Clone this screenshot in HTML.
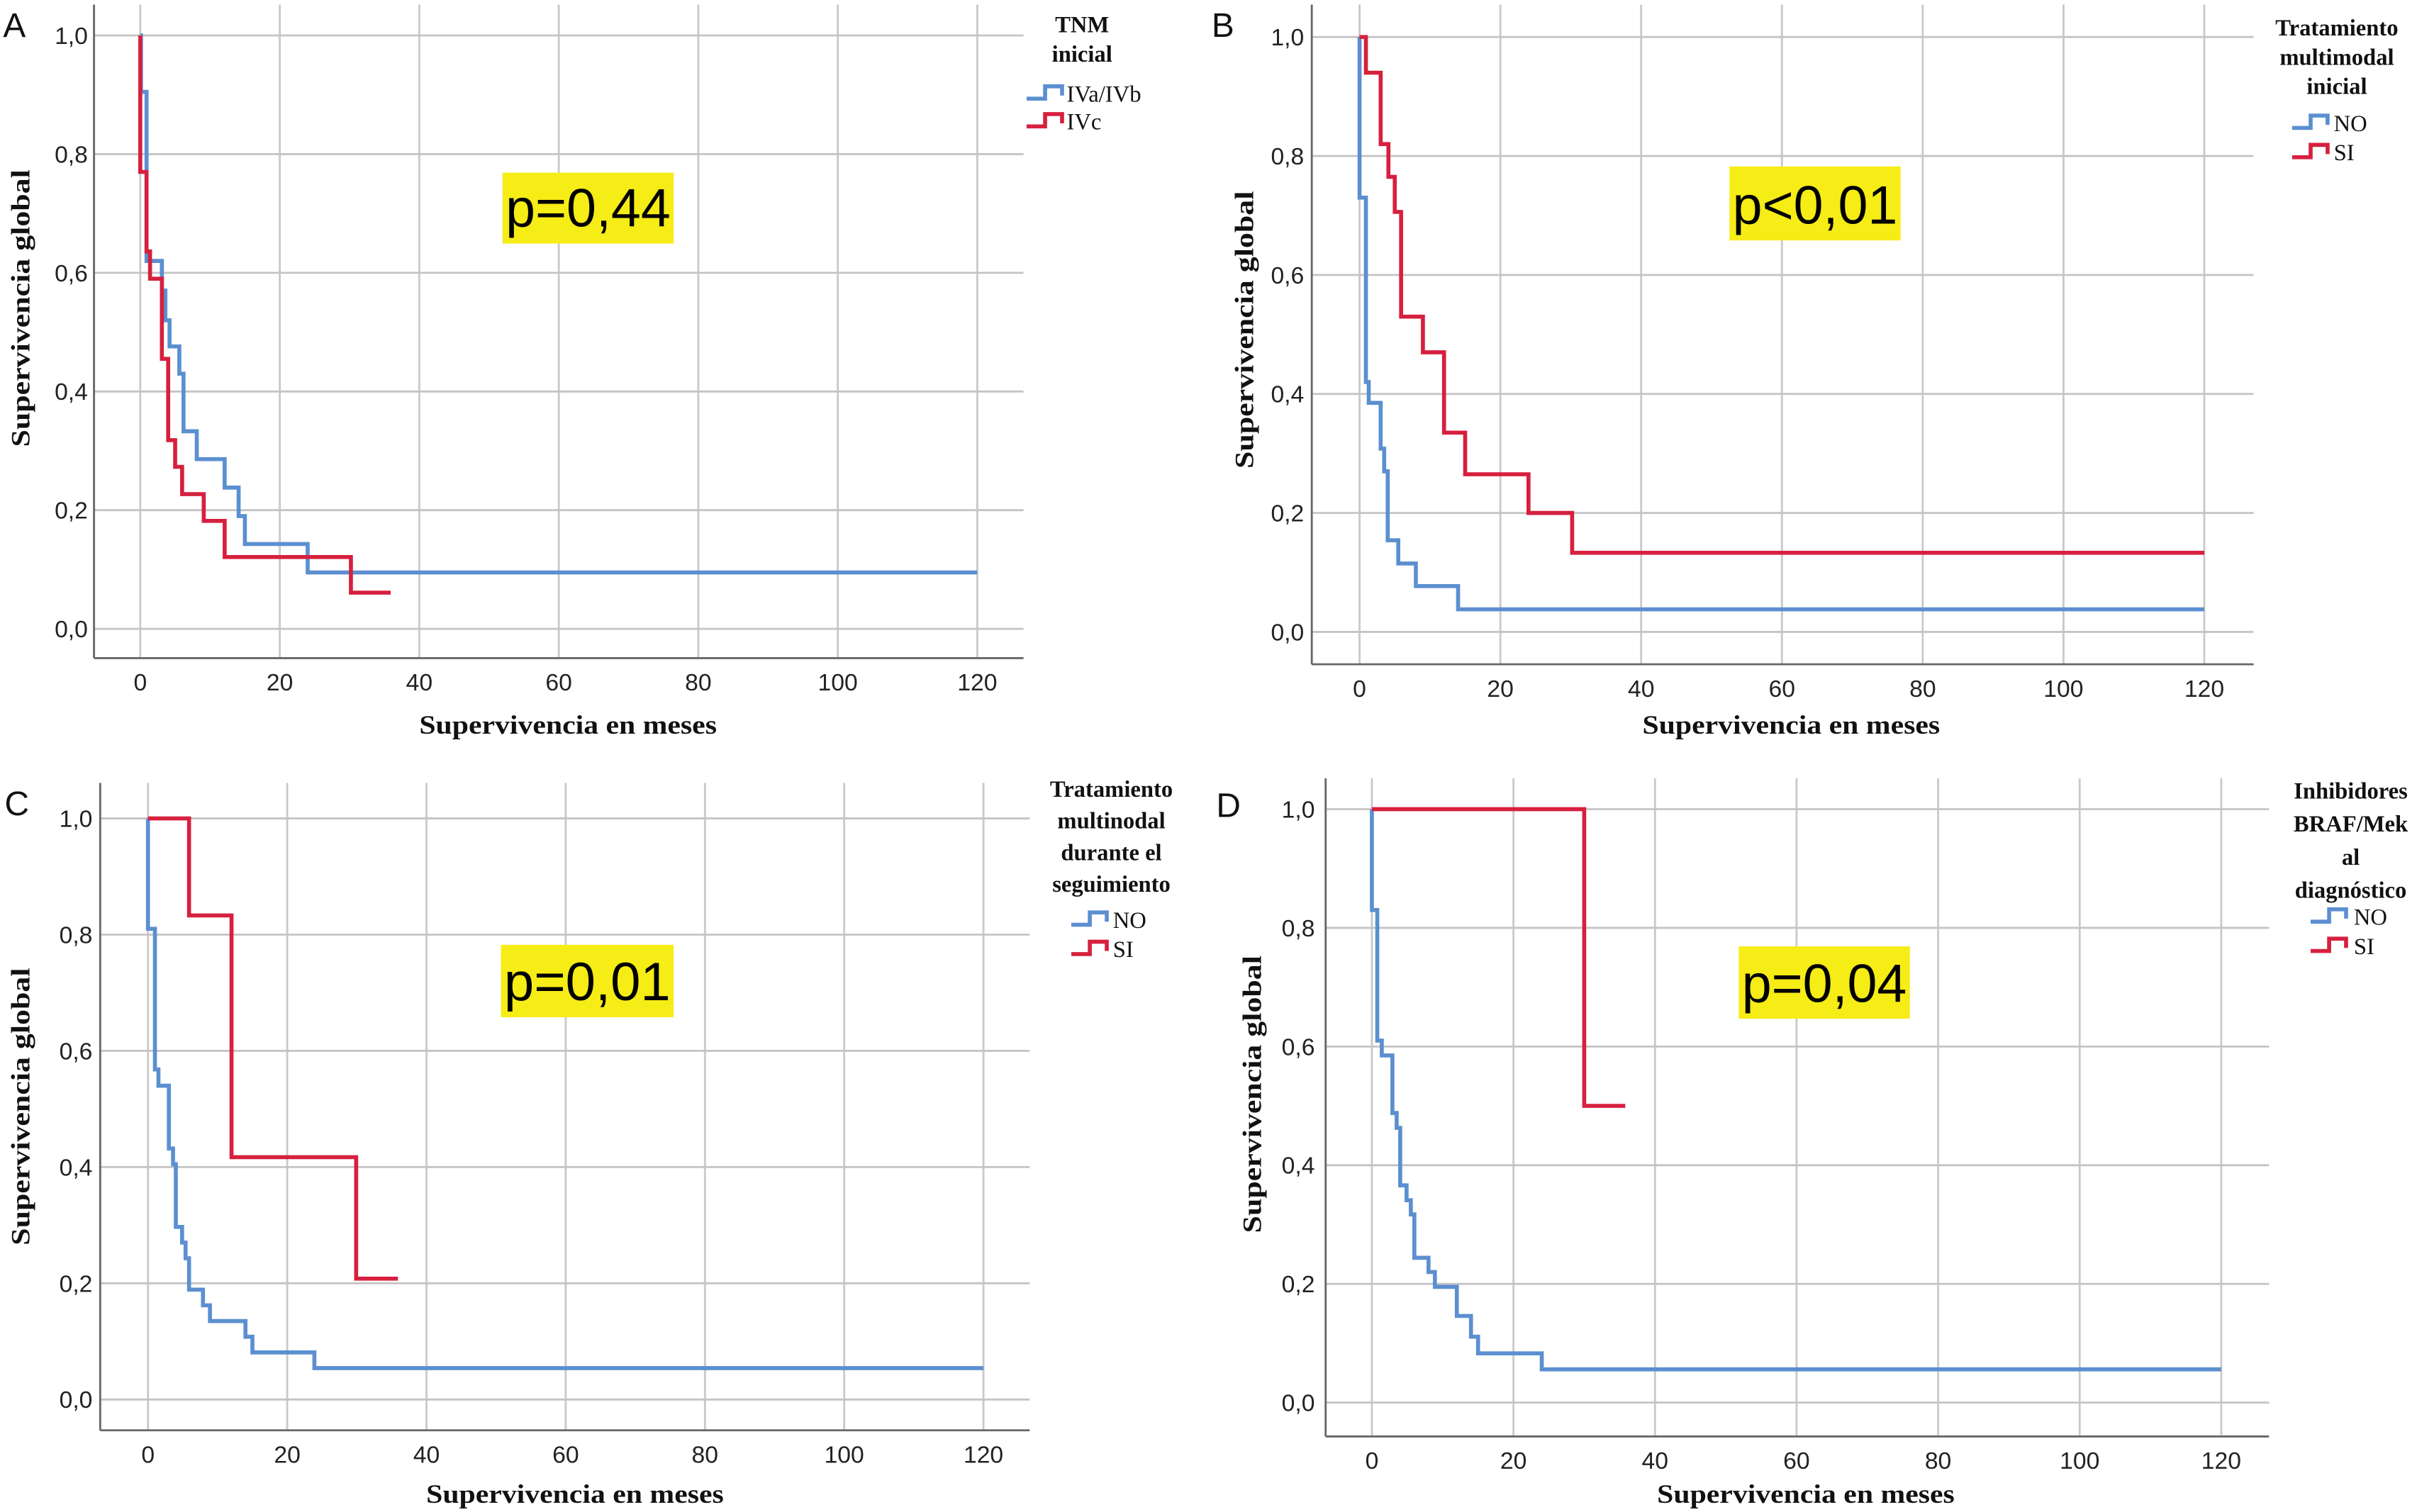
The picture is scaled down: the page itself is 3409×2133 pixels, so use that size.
<!DOCTYPE html>
<html><head><meta charset="utf-8">
<style>
html,body{margin:0;padding:0;background:#fff;}
svg{display:block;}
</style></head>
<body>
<svg id="fig" width="3409" height="2133" viewBox="0 0 1568 981" preserveAspectRatio="none" xmlns="http://www.w3.org/2000/svg">
<rect x="0" y="0" width="1568" height="981" fill="#fff"/>
</svg>
<script>
// ---- data (months, survival) ----
const xTicks = [0, 20, 40, 60, 80, 100, 120];
const yTicks = [0, 0.2, 0.4, 0.6, 0.8, 1.0];
const yTickLabels = ["0,0", "0,2", "0,4", "0,6", "0,8", "1,0"];

const aBlueT = [0.1, 0.9, 3.1, 3.6, 4.2, 5.6, 6.2, 8.1, 12.1, 14.1, 15, 24];
const aBlueS = [0.905, 0.62, 0.57, 0.52, 0.476, 0.43, 0.333, 0.286, 0.238, 0.19, 0.143, 0.095];
const aBlueEnd = 120;
const aRedT = [0, 0.9, 1.4, 3.1, 4.0, 5.0, 6.0, 9.1, 12.1, 30.2];
const aRedS = [0.77, 0.636, 0.59, 0.455, 0.318, 0.273, 0.227, 0.182, 0.121, 0.061];
const aRedEnd = 35.9;

const bBlueT = [0, 0.9, 1.3, 3.0, 3.5, 4.0, 5.5, 8.0, 14];
const bBlueS = [0.73, 0.42, 0.385, 0.308, 0.27, 0.154, 0.115, 0.077, 0.038];
const bBlueEnd = 120;
const bRedT = [0.9, 3.0, 4.1, 5.0, 5.9, 9.0, 12, 15, 24, 30.2];
const bRedS = [0.94, 0.82, 0.765, 0.706, 0.53, 0.47, 0.335, 0.265, 0.2, 0.133];
const bRedEnd = 120;

const cBlueT = [0, 1.0, 1.5, 3.0, 3.6, 4.0, 4.9, 5.4, 5.9, 7.9, 8.9, 14, 15, 23.9];
const cBlueS = [0.81, 0.568, 0.54, 0.432, 0.405, 0.297, 0.27, 0.243, 0.189, 0.162, 0.135, 0.108, 0.081, 0.054];
const cBlueEnd = 120;
const cRedT = [5.9, 12, 29.9];
const cRedS = [0.833, 0.417, 0.208];
const cRedEnd = 35.9;

const dBlueT = [0, 0.76, 1.4, 2.9, 3.5, 4.0, 4.9, 5.5, 6.0, 8.0, 8.9, 12.0, 14, 15, 24];
const dBlueS = [0.83, 0.61, 0.585, 0.488, 0.463, 0.366, 0.341, 0.317, 0.244, 0.22, 0.195, 0.146, 0.111, 0.083, 0.056];
const dBlueEnd = 120;
const dRedT = [30];
const dRedS = [0.5];
const dRedEnd = 35.8;

const pValues = ["p=0,44", "p<0,01", "p=0,01", "p=0,04"];
const panelLetters = ["A", "B", "C", "D"];

const NS = "http://www.w3.org/2000/svg";
const svg = document.getElementById("fig");
const BLUE = "#5b8fd0", RED = "#d6203e";

function mk(tag, attrs, parent) {
  const e = document.createElementNS(NS, tag);
  for (const k in attrs) e.setAttribute(k, attrs[k]);
  (parent || svg).appendChild(e);
  return e;
}

const panels = [
  {key:"a", left:61, right:664, top:3, bottom:427, x0:91, x120:634, y1:23, y0:408,
   blueT:aBlueT, blueS:aBlueS, blueEnd:aBlueEnd, redT:aRedT, redS:aRedS, redEnd:aRedEnd,
   letterX:2, letterY:24, titleX:13, ylabY:200, xlabY:476, tickX:57,
   pbox:[326,112,111,46],
   legend:{lines:["TNM","inicial"], cx:702, lineY0:21, dy:19, items:[["IVa/IVb",62],["IVc",80]], iconX:666, textX:692, align:"start"}},
  {key:"b", left:851, right:1462, top:3, bottom:431, x0:882, x120:1430, y1:24, y0:410,
   blueT:bBlueT, blueS:bBlueS, blueEnd:bBlueEnd, redT:bRedT, redS:bRedS, redEnd:bRedEnd,
   letterX:786, letterY:24, titleX:807, ylabY:214, xlabY:476, tickX:846,
   pbox:[1122,108,111,48],
   legend:{lines:["Tratamiento","multimodal","inicial"], cx:1516, lineY0:23, dy:19, items:[["NO",81],["SI",100]], iconX:1487, textX:1514, align:"start"}},
  {key:"c", left:65, right:668, top:508, bottom:928, x0:96, x120:638, y1:531, y0:908,
   blueT:cBlueT, blueS:cBlueS, blueEnd:cBlueEnd, redT:cRedT, redS:cRedS, redEnd:cRedEnd,
   letterX:3, letterY:529, titleX:13, ylabY:718, xlabY:975, tickX:60,
   pbox:[325,613,112,47],
   legend:{lines:["Tratamiento","multinodal","durante el","seguimiento"], cx:721, lineY0:517, dy:20.5, items:[["NO",598],["SI",617]], iconX:695, textX:722, align:"start"}},
  {key:"d", left:860, right:1472, top:505, bottom:932, x0:890, x120:1441, y1:525, y0:910,
   blueT:dBlueT, blueS:dBlueS, blueEnd:dBlueEnd, redT:dRedT, redS:dRedS, redEnd:dRedEnd,
   letterX:789, letterY:530, titleX:812, ylabY:710, xlabY:975, tickX:853,
   pbox:[1128,614,111,47],
   legend:{lines:["Inhibidores","BRAF/Mek","al","diagnóstico"], cx:1525, lineY0:518, dy:21.5, items:[["NO",596],["SI",615]], iconX:1499, textX:1527, align:"start"}}
];

function stepPath(T, S, end, sx, sy) {
  let d = "M" + sx(0) + "," + sy(1);
  let cur = 1;
  for (let i = 0; i < T.length; i++) {
    d += " L" + sx(T[i]) + "," + sy(cur);
    d += " L" + sx(T[i]) + "," + sy(S[i]);
    cur = S[i];
  }
  d += " L" + sx(end) + "," + sy(cur);
  return d;
}

panels.forEach((p, idx) => {
  const g = mk("g", {});
  
  
  const sx = t => p.x0 + (t / 120) * (p.x120 - p.x0);
  const sy = v => p.y0 - v * (p.y0 - p.y1);

  // grid
  xTicks.forEach(t => {
    const l = mk("line", {x1:sx(t), x2:sx(t), y1:p.top, y2:p.bottom, stroke:"#c9c9c9", "stroke-width":1.3}, g);
    
    
  });
  yTicks.forEach(v => {
    const l = mk("line", {x1:p.left, x2:p.right, y1:sy(v), y2:sy(v), stroke:"#c4c4c4", "stroke-width":1.3}, g);
    
    
  });
  // axes
  const ax = mk("line", {x1:p.left, x2:p.right, y1:p.bottom, y2:p.bottom, stroke:"#666", "stroke-width":1.3}, g);
  
  
  const ay = mk("line", {x1:p.left, x2:p.left, y1:p.top, y2:p.bottom, stroke:"#666", "stroke-width":1.3}, g);
  
  

  // tick labels
  xTicks.forEach(t => {
    const tx = mk("text", {x:sx(t), y:p.bottom + 21, "text-anchor":"middle", "font-family":"Liberation Sans, sans-serif", "font-size":15.5, fill:"#222"}, g);
    
    
    tx.textContent = String(t);
  });
  yTicks.forEach((v, i) => {
    const tx = mk("text", {x:p.tickX, y:sy(v) + 5.5, "text-anchor":"end", "font-family":"Liberation Sans, sans-serif", "font-size":15.5, fill:"#222"}, g);
    
    
    tx.textContent = yTickLabels[i];
  });

  // axis titles
  const xt = mk("text", {x:(p.x0 + p.x120) / 2 + 6, y:p.xlabY, "text-anchor":"middle", "font-family":"Liberation Serif, serif", "font-weight":"bold", "font-size":17, fill:"#111", textLength:193, lengthAdjust:"spacingAndGlyphs"}, g);
  
  
  xt.textContent = "Supervivencia en meses";
  const yt = mk("text", {x:0, y:0, "text-anchor":"middle", "font-family":"Liberation Serif, serif", "font-weight":"bold", "font-size":17, fill:"#111", textLength:180, lengthAdjust:"spacingAndGlyphs", transform:"translate(" + (p.titleX + 6) + "," + p.ylabY + ") rotate(-90)"}, g);
  
  
  yt.textContent = "Supervivencia global";

  // panel letter
  const lt = mk("text", {x:p.letterX, y:p.letterY, "font-family":"Liberation Sans, sans-serif", "font-size":22, fill:"#111"}, g);
  
  
  lt.textContent = panelLetters[idx];

  // curves
  const blue = mk("path", {d:stepPath(p.blueT, p.blueS, p.blueEnd, sx, sy), fill:"none", stroke:BLUE, "stroke-width":2.6, "stroke-linejoin":"miter"}, g);
  
  
  const red = mk("path", {d:stepPath(p.redT, p.redS, p.redEnd, sx, sy), fill:"none", stroke:RED, "stroke-width":2.6, "stroke-linejoin":"miter"}, g);
  
  

  // p-value box
  const pb = p.pbox;
  const pr = mk("rect", {x:pb[0], y:pb[1], width:pb[2], height:pb[3], fill:"#f6ec16"}, g);
  
  
  const pt = mk("text", {x:pb[0] + pb[2] / 2, y:pb[1] + pb[3] - 11, "text-anchor":"middle", "font-family":"Liberation Sans, sans-serif", "font-size":35, fill:"#000", textLength:pb[2] - 4, lengthAdjust:"spacingAndGlyphs"}, g);
  
  
  pt.textContent = pValues[idx];

  // legend
  const lg = p.legend;
  lg.lines.forEach((s, i) => {
    const t = mk("text", {x:lg.cx, y:lg.lineY0 + i * lg.dy, "text-anchor":"middle", "font-family":"Liberation Serif, serif", "font-weight":"bold", "font-size":15, fill:"#111"}, g);
    
    
    t.textContent = s;
  });
  lg.items.forEach((it, i) => {
    const col = i === 0 ? BLUE : RED;
    const y = it[1];
    const ic = mk("path", {d:"M" + lg.iconX + "," + (y + 2) + " L" + (lg.iconX + 12) + "," + (y + 2) + " L" + (lg.iconX + 12) + "," + (y - 6) + " L" + (lg.iconX + 23) + "," + (y - 6) + " L" + (lg.iconX + 23) + "," + (y), fill:"none", stroke:col, "stroke-width":2.6}, g);
    
    
    const t = mk("text", {x:lg.textX, y:y + 4, "font-family":"Liberation Serif, serif", "font-size":15, fill:"#111"}, g);
    
    
    t.textContent = it[0];
  });
});
</script>
</body></html>
